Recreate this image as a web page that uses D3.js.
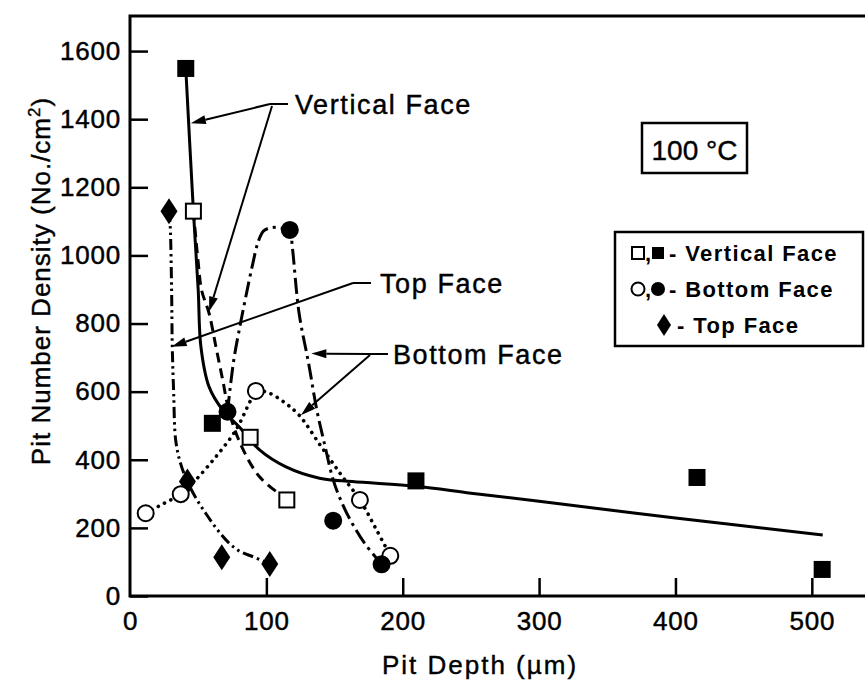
<!DOCTYPE html>
<html><head><meta charset="utf-8">
<script src="https://cdn.jsdelivr.net/npm/d3@7"></script>
<style>
html,body{margin:0;padding:0;background:#fff;}
svg text{font-family:"Liberation Sans",Arial,Helvetica,sans-serif;fill:#000;}
</style></head><body>
<svg id="chart" width="865" height="690"></svg>
<script>
// ---- axes ----
const depthTicks = [0, 100, 200, 300, 400, 500];
const densityTicks = [0, 200, 400, 600, 800, 1000, 1200, 1400, 1600];

// ---- measured pits: [pit depth (µm), pit number density (No./cm²)] ----
const verticalFilled = [[40.9, 1549], [60.4, 507], [209.7, 338], [415.8, 348], [507.6, 78]];
const verticalOpen   = [[46.5, 1130], [88.1, 466], [115, 282]];
const bottomFilled   = [[71.5, 541], [117.2, 1075], [149, 221], [184.5, 93]];
const bottomOpen     = [[11.5, 243], [37.2, 299], [92.3, 602], [168.6, 282], [190.9, 118]];
const topFilled      = [[28.6, 1130], [42.1, 336], [67.3, 114], [102.5, 94]];

// ---- hand-fitted trend curves ----
const verticalFilledCurve = [[40.9, 1549], [46.5, 1130], [50, 900], [52, 732], [58, 614], [68, 546],
  [80, 497], [95, 429], [114, 380], [139, 346], [163, 336], [210, 322], [250, 302], [300, 278],
  [400, 229], [508, 179]];
const verticalOpenCurve = [[46.5, 1130], [50, 980], [52.5, 898], [58, 830], [63, 732], [68, 634],
  [73, 536], [82, 438], [95, 350], [112, 292], [115, 282]];
const bottomFilledCurve = [[71.5, 541], [76, 690], [81, 800], [85, 880], [90, 975], [94, 1040],
  [98, 1072], [104, 1082], [111, 1080], [117.2, 1075], [119, 1026], [124, 830], [131, 683],
  [137, 546], [143, 440], [149, 341], [156, 268], [163, 213], [172, 155], [184.5, 93]];
const bottomOpenCurve = [[11.5, 243], [24, 270], [37.2, 299], [48, 340], [63, 409], [77.6, 487],
  [87.4, 566], [92.3, 602], [102, 596], [114, 566], [124, 531], [140, 440], [155, 355],
  [168.6, 282], [180, 200], [190.9, 118]];
const topFilledCurve = [[28.6, 1130], [29.5, 1084], [30.5, 900], [31, 732], [32, 600], [33.5, 458],
  [37, 390], [42.1, 336], [48, 290], [55.5, 243], [64, 195], [72.7, 155], [81, 130],
  [89.8, 116], [102.5, 94]];

const legendRows = ["- Vertical Face", "- Bottom Face", "- Top Face"];

const svg = d3.select("#chart");
const x = d3.scaleLinear().domain([0, 539]).range([130, 865]);
const y = d3.scaleLinear().domain([0, 1703]).range([596, 16]);

const FONT = 26;

// ---- frame ----
svg.append("path")
  .attr("d", `M865,${y(1703)}H${x(0)}V${y(0)}H865`)
  .attr("fill", "none").attr("stroke", "#000").attr("stroke-width", 3);

// ---- ticks ----
const yAxis = svg.append("g").attr("transform", `translate(${x(0)},0)`)
  .call(d3.axisLeft(y).tickValues(densityTicks).tickFormat(d3.format("d"))
    .tickSize(-18).tickSizeOuter(0).tickPadding(9));
const xAxis = svg.append("g").attr("transform", `translate(0,${y(0)})`)
  .call(d3.axisBottom(x).tickValues(depthTicks).tickFormat(d3.format("d"))
    .tickSize(-18).tickSizeOuter(0).tickPadding(16));
[yAxis, xAxis].forEach(g => {
  g.select(".domain").remove();
  g.selectAll(".tick line").attr("stroke", "#000").attr("stroke-width", 2.5);
  g.selectAll(".tick text").attr("font-size", FONT).attr("font-family", null)
    .attr("letter-spacing", 0.8)
    .attr("fill", "#000").attr("stroke", "#000").attr("stroke-width", 0.45);
});
xAxis.selectAll(".tick").filter(d => d === 0).select("line").remove();

// ---- axis titles ----
svg.append("text").attr("x", 480).attr("y", 674).attr("text-anchor", "middle")
  .attr("font-size", FONT).attr("letter-spacing", 2).attr("stroke", "#000").attr("stroke-width", 0.4)
  .text("Pit Depth (µm)");
const yt = svg.append("text").attr("transform", "translate(50,281) rotate(-90)")
  .attr("text-anchor", "middle").attr("font-size", FONT).attr("letter-spacing", 1)
  .attr("stroke", "#000").attr("stroke-width", 0.4);
yt.append("tspan").text("Pit Number Density (No./cm");
yt.append("tspan").attr("font-size", 17).attr("dy", -10).text("2");
yt.append("tspan").attr("dy", 10).text(")");

// ---- curves ----
const line = d3.line().x(d => x(d[0])).y(d => y(d[1])).curve(d3.curveCatmullRom.alpha(0.5));
const curves = [
  { pts: topFilledCurve, dash: "11,4,2.5,4,2.5,4", w: 3 },
  { pts: bottomOpenCurve, dash: "0.1,7", w: 3.6, cap: "round" },
  { pts: bottomFilledCurve, dash: "16,5,3,5", w: 3 },
  { pts: verticalOpenCurve, dash: "10,6", w: 3 },
  { pts: verticalFilledCurve, dash: null, w: 3 }
];
curves.forEach(c => {
  svg.append("path").attr("d", line(c.pts)).attr("fill", "none").attr("stroke", "#000")
    .attr("stroke-width", c.w).attr("stroke-dasharray", c.dash)
    .attr("stroke-linecap", c.cap || "butt");
});

// ---- markers ----
const SQ = 15, R = 8, DW = 8.5, DH = 13;
function squares(data, filled) {
  svg.append("g").selectAll("rect").data(data).join("rect")
    .attr("x", d => x(d[0]) - SQ / 2).attr("y", d => y(d[1]) - SQ / 2)
    .attr("width", SQ).attr("height", SQ)
    .attr("fill", filled ? "#000" : "#fff").attr("stroke", "#000").attr("stroke-width", 2);
}
function circles(data, filled) {
  svg.append("g").selectAll("circle").data(data).join("circle")
    .attr("cx", d => x(d[0])).attr("cy", d => y(d[1])).attr("r", R)
    .attr("fill", filled ? "#000" : "#fff").attr("stroke", "#000").attr("stroke-width", 2);
}
const diamondPath = (cx, cy, w, h) => `M${cx},${cy - h}L${cx + w},${cy}L${cx},${cy + h}L${cx - w},${cy}Z`;
function diamonds(data) {
  svg.append("g").selectAll("path").data(data).join("path")
    .attr("d", d => diamondPath(x(d[0]), y(d[1]), DW, DH)).attr("fill", "#000");
}
diamonds(topFilled);
circles(bottomOpen, false);
circles(bottomFilled, true);
squares(verticalOpen, false);
squares(verticalFilled, true);

// ---- leader lines with arrowheads ----
function arrow(x1, y1, x2, y2) {
  const a = Math.atan2(y2 - y1, x2 - x1), L = 15, W = 4.5;
  const bx = x2 - L * Math.cos(a), by = y2 - L * Math.sin(a);
  svg.append("line").attr("x1", x1).attr("y1", y1).attr("x2", bx).attr("y2", by)
    .attr("stroke", "#000").attr("stroke-width", 2);
  svg.append("path").attr("fill", "#000")
    .attr("d", `M${x2},${y2}L${bx - W * Math.sin(a)},${by + W * Math.cos(a)}L${bx + W * Math.sin(a)},${by - W * Math.cos(a)}Z`);
}
function hub(x1, x2, yy) {
  svg.append("line").attr("x1", x1).attr("x2", x2).attr("y1", yy).attr("y2", yy)
    .attr("stroke", "#000").attr("stroke-width", 2);
}
function label(tx, ty, s) {
  svg.append("text").attr("x", tx).attr("y", ty).attr("font-size", 27)
    .attr("letter-spacing", 1.6).attr("stroke", "#000").attr("stroke-width", 0.45).text(s);
}
// Vertical Face
hub(270, 288, 104);
arrow(270, 104, x(44.6), y(1388));
arrow(272, 106, x(58), y(835));
label(295, 114, "Vertical Face");
// Top Face
hub(353, 371, 283);
arrow(353, 283, x(30.5), y(732));
label(380, 293, "Top Face");
// Bottom Face
hub(370, 388, 354);
arrow(370, 354, x(133), y(712));
arrow(370, 355, x(125.3), y(531));
label(393, 364, "Bottom Face");

// ---- temperature box ----
svg.append("rect").attr("x", 642).attr("y", 123).attr("width", 105).attr("height", 50)
  .attr("fill", "#fff").attr("stroke", "#000").attr("stroke-width", 2.5);
svg.append("text").attr("x", 694.5).attr("y", 160).attr("text-anchor", "middle")
  .attr("font-size", 28).attr("stroke", "#000").attr("stroke-width", 0.4).text("100 °C");

// ---- legend ----
const lg = svg.append("g");
lg.append("rect").attr("x", 615).attr("y", 232).attr("width", 248).attr("height", 114)
  .attr("fill", "#fff").attr("stroke", "#000").attr("stroke-width", 2.5);
const rowY = [253, 289, 325];
// row 1: squares
lg.append("rect").attr("x", 632).attr("y", rowY[0] - 6).attr("width", 12).attr("height", 12)
  .attr("fill", "#fff").attr("stroke", "#000").attr("stroke-width", 2);
lg.append("rect").attr("x", 652).attr("y", rowY[0] - 6).attr("width", 12).attr("height", 12).attr("fill", "#000");
// row 2: circles
lg.append("circle").attr("cx", 638).attr("cy", rowY[1]).attr("r", 6.5)
  .attr("fill", "#fff").attr("stroke", "#000").attr("stroke-width", 2);
lg.append("circle").attr("cx", 658).attr("cy", rowY[1]).attr("r", 7).attr("fill", "#000");
// row 3: diamond
lg.append("path").attr("d", diamondPath(664, rowY[2], 7, 11)).attr("fill", "#000");
[0, 1].forEach(i => lg.append("text").attr("x", 645).attr("y", rowY[i] + 8)
  .attr("font-size", 22).attr("font-weight", "bold").text(","));
legendRows.forEach((t, i) => lg.append("text").attr("x", i < 2 ? 669 : 677).attr("y", rowY[i] + 8)
  .attr("font-size", 22).attr("font-weight", "bold").attr("letter-spacing", 1.4).text(t));
</script>
</body></html>
